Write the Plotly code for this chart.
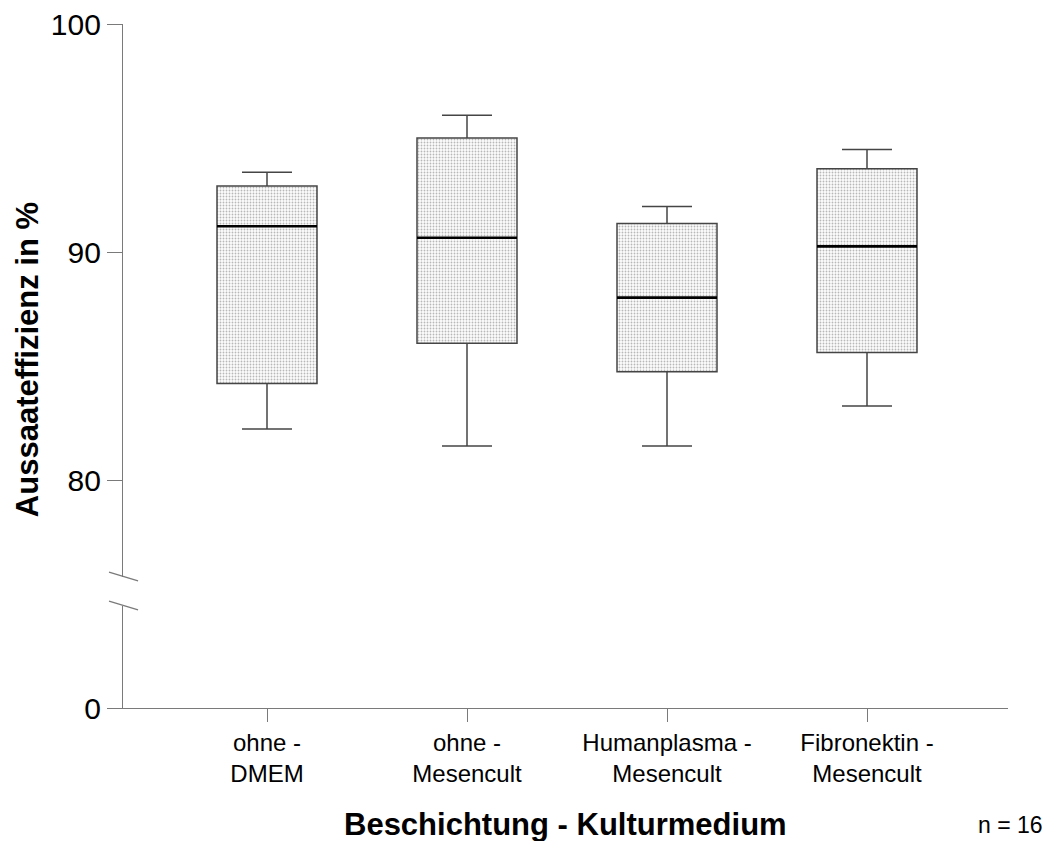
import plotly.graph_objects as go

# Groups (coating - culture medium) and box statistics in %
categories = ["ohne -<br>DMEM", "ohne -<br>Mesencult", "Humanplasma -<br>Mesencult", "Fibronektin -<br>Mesencult"]
upper_whisker = [93.5, 96.0, 92.0, 94.5]
q3_values = [92.9, 95.0, 91.25, 93.65]
median_values = [91.13, 90.63, 88.0, 90.25]
q1_values = [84.24, 86.0, 84.75, 85.6]
lower_whisker = [82.24, 81.5, 81.5, 83.25]
y_ticks_upper = [80, 90, 100]
y_ticks_lower = [0]
n_label = "n = 16"

FONT = "Liberation Sans, Arial, sans-serif"
AXIS_GREY = "#7a7a7a"
BOX_W = 0.5
positions = list(range(len(categories)))

fig = go.Figure()

# Stippled box body (interquartile range) under the box outline
fig.add_trace(go.Bar(
    x=positions,
    y=[hi - lo for hi, lo in zip(q3_values, q1_values)],
    base=q1_values,
    width=BOX_W,
    marker=dict(
        color="white",
        line=dict(width=0),
        pattern=dict(shape=".", fgcolor="#b8b8b8", bgcolor="#fdfdfd", size=3, solidity=0.3),
    ),
    hoverinfo="skip",
    xaxis="x", yaxis="y",
    showlegend=False,
))

# Box outline and whiskers
fig.add_trace(go.Box(
    x=positions,
    q1=q1_values,
    median=median_values,
    q3=q3_values,
    lowerfence=lower_whisker,
    upperfence=upper_whisker,
    width=BOX_W,
    whiskerwidth=0.5,
    fillcolor="rgba(0,0,0,0)",
    line=dict(color="#454545", width=1.5),
    boxpoints=False,
    xaxis="x", yaxis="y",
    showlegend=False,
))

# Heavier median lines
mx, my = [], []
for p, m in zip(positions, median_values):
    mx += [p - BOX_W / 2, p + BOX_W / 2, None]
    my += [m, m, None]
fig.add_trace(go.Scatter(
    x=mx, y=my, mode="lines",
    line=dict(color="black", width=2.6),
    hoverinfo="skip", showlegend=False,
    xaxis="x", yaxis="y",
))

# Invisible trace so the lower (zero) axis segment is laid out
fig.add_trace(go.Scatter(
    x=[positions[0]], y=y_ticks_lower, mode="markers",
    marker=dict(opacity=0), hoverinfo="skip", showlegend=False,
    xaxis="x", yaxis="y2",
))

axis_common = dict(
    showline=True, linecolor=AXIS_GREY, linewidth=1.3,
    ticks="outside", tickcolor=AXIS_GREY, tickwidth=1.3,
    showgrid=False, zeroline=False, automargin=False,
)

fig.update_layout(
    template="none",
    width=1050, height=841,
    margin=dict(l=123, r=42, t=24, b=133),
    paper_bgcolor="white", plot_bgcolor="white",
    font=dict(family=FONT, color="black"),
    showlegend=False,
    barmode="overlay",
    xaxis=dict(
        **axis_common,
        anchor="y2",
        range=[-0.72, 3.705],
        tickvals=positions, ticktext=categories,
        ticklen=13,
        tickfont=dict(size=24, family=FONT),
    ),
    yaxis=dict(
        **axis_common,
        anchor="x",
        domain=[0.1915, 1.0],
        range=[75.75, 100],
        tickvals=y_ticks_upper,
        ticklen=15,
        tickfont=dict(size=30, family=FONT),
    ),
    yaxis2=dict(
        **axis_common,
        anchor="x",
        domain=[0.0, 0.149],
        range=[0, 1],
        tickvals=y_ticks_lower,
        ticklen=15,
        tickfont=dict(size=30, family=FONT),
    ),
)

# Axis break marks between the two y segments
for y0, y1 in [(0.1988, 0.1857), (0.1564, 0.1433)]:
    fig.add_shape(type="line", xref="paper", yref="paper",
                  x0=-0.0158, y0=y0, x1=0.017, y1=y1,
                  line=dict(color=AXIS_GREY, width=1.3))

fig.add_annotation(
    text="<b>Aussaateffizienz in %</b>", textangle=-90,
    xref="paper", yref="paper", x=-0.107, y=0.509,
    xanchor="center", yanchor="middle", showarrow=False,
    font=dict(size=31, family=FONT, color="black"),
)
fig.add_annotation(
    text="<b>Beschichtung - Kulturmedium</b>",
    xref="paper", yref="paper", x=0.5, y=-0.171,
    xanchor="center", yanchor="middle", showarrow=False,
    font=dict(size=31, family=FONT, color="black"),
)
fig.add_annotation(
    text=n_label,
    xref="paper", yref="paper", x=1.0418, y=-0.171,
    xanchor="right", yanchor="middle", showarrow=False,
    font=dict(size=23, family=FONT, color="black"),
)

fig.write_html("out.html")
